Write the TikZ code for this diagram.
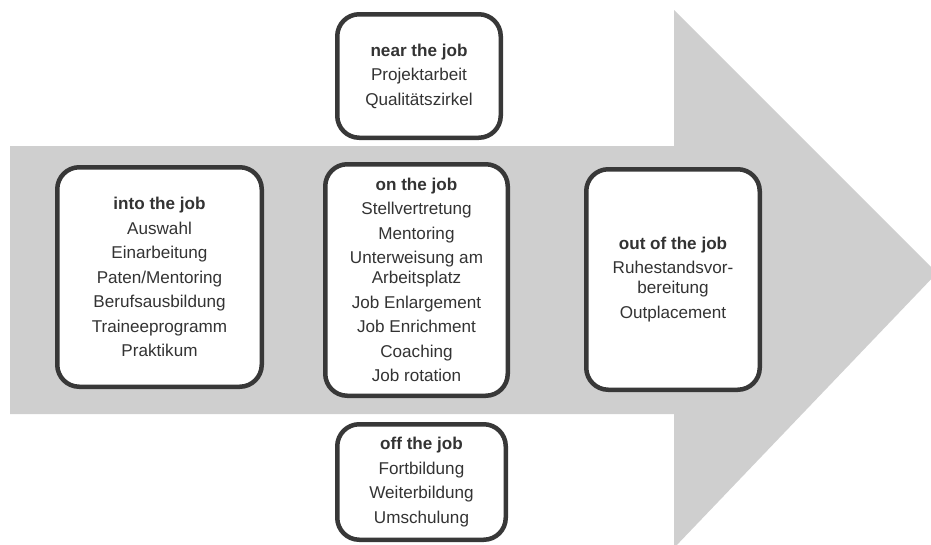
\documentclass[tikz,border=0pt]{standalone}
\usepackage{fontspec}
\setmainfont{Liberation Sans}
\definecolor{arrowgray}{RGB}{207,207,207}
\definecolor{framegray}{RGB}{56,56,56}
\definecolor{textgray}{RGB}{51,51,51}

\begin{document}
\begin{tikzpicture}[x=1pt,y=-1pt,
    phase/.style={draw=framegray,line width=4.5pt,rounded corners=22pt,fill=white,
      align=center,text=textgray,inner sep=0pt,
      font=\fontsize{17.1}{24.5}\selectfont}]
      \useasboundingbox (0,0) rectangle (931,544);
      \clip (0,0) rectangle (931,544);

      % big arrow
      \fill[arrowgray] (10,146) -- (674,146) -- (674,10) -- (937,273)
        -- (674,548) -- (674,414) -- (10,414) -- cycle;

      \node[phase,minimum width=204.5pt,minimum height=219.5pt] (into) at (159.5,277)
        {\textbf{into the job}\\Auswahl\\Einarbeitung\\Paten/Mentoring\\Berufsausbildung\\Traineeprogramm\\Praktikum};
      \node[phase,minimum width=182.5pt,minimum height=231.5pt] (on) at (416.5,280)
        {\textbf{on the job}\\Stellvertretung\\Mentoring\\Unterweisung am\\[-4.5pt]Arbeitsplatz\\Job Enlargement\\Job Enrichment\\Coaching\\Job rotation};
      \node[phase,minimum width=173.5pt,minimum height=220.5pt] (out) at (673,279.5)
        {\textbf{out of the job}\\Ruhestandsvor-\\[-4.5pt]bereitung\\Outplacement};
      \node[phase,minimum width=163.5pt,minimum height=123.5pt] (near) at (419,76)
        {\textbf{near the job}\\Projektarbeit\\Qualitätszirkel};
      \node[phase,minimum width=168.5pt,minimum height=115.5pt] (off) at (421.5,482)
        {\textbf{off the job}\\Fortbildung\\Weiterbildung\\Umschulung};
    \end{tikzpicture}
\end{document}
